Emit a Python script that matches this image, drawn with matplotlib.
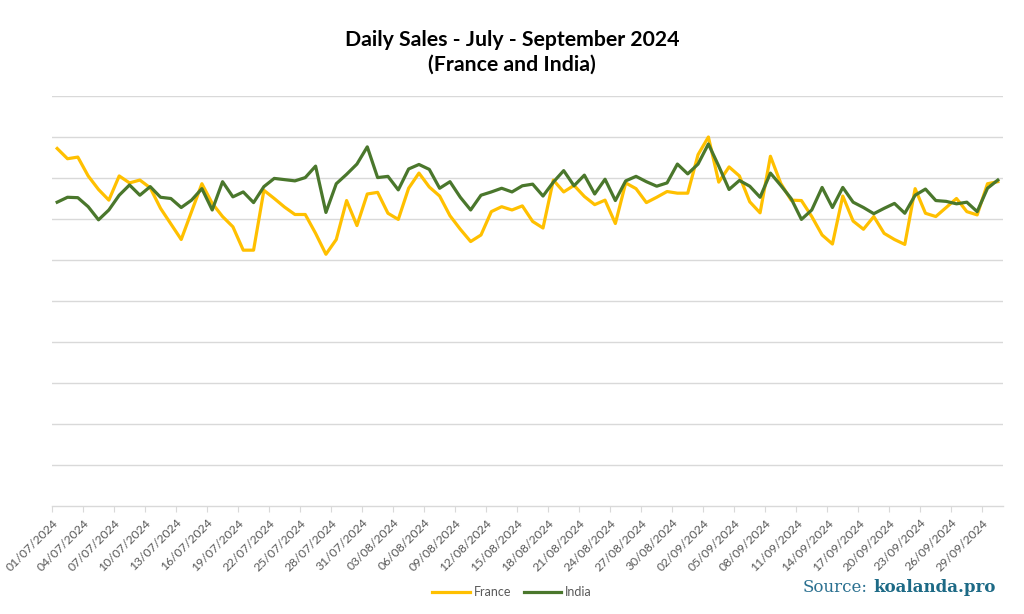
import matplotlib
matplotlib.use("Agg")
import matplotlib.pyplot as plt
import numpy as np
import pandas as pd

# ---- data (arbitrary units, grid step = 1) ----
start_date = "2024-07-01"
n_days = 92
france = [8.72, 8.47, 8.51, 8.05, 7.72, 7.46, 8.05, 7.88, 7.95, 7.76,
          7.26, 6.88, 6.50, 7.18, 7.86, 7.38, 7.06, 6.81, 6.24, 6.24,
          7.70, 7.50, 7.29, 7.11, 7.11, 6.65, 6.14, 6.50, 7.45, 6.84,
          7.61, 7.65, 7.14, 6.99, 7.75, 8.12, 7.78, 7.56, 7.08, 6.75,
          6.45, 6.61, 7.18, 7.30, 7.22, 7.32, 6.94, 6.78, 7.95, 7.66,
          7.82, 7.55, 7.35, 7.46, 6.89, 7.88, 7.74, 7.40, 7.53, 7.67,
          7.63, 7.63, 8.57, 9.00, 7.90, 8.27, 8.05, 7.42, 7.15, 8.53,
          7.87, 7.46, 7.45, 7.06, 6.61, 6.39, 7.56, 6.95, 6.75, 7.06,
          6.65, 6.50, 6.38, 7.74, 7.14, 7.06, 7.28, 7.50, 7.18, 7.10,
          7.86, 7.91]
india = [7.41, 7.53, 7.52, 7.30, 6.98, 7.22, 7.58, 7.83, 7.58, 7.79,
         7.53, 7.50, 7.28, 7.46, 7.74, 7.22, 7.91, 7.54, 7.66, 7.40,
         7.79, 7.99, 7.96, 7.93, 8.01, 8.29, 7.16, 7.86, 8.09, 8.34,
         8.76, 8.01, 8.04, 7.71, 8.22, 8.33, 8.21, 7.75, 7.91, 7.53,
         7.22, 7.58, 7.66, 7.75, 7.66, 7.81, 7.85, 7.56, 7.90, 8.18,
         7.81, 8.07, 7.61, 7.97, 7.45, 7.93, 8.04, 7.91, 7.80, 7.88,
         8.34, 8.10, 8.34, 8.83, 8.29, 7.72, 7.94, 7.80, 7.53, 8.12,
         7.82, 7.50, 6.99, 7.22, 7.77, 7.28, 7.77, 7.41, 7.28, 7.13,
         7.26, 7.38, 7.14, 7.58, 7.73, 7.45, 7.43, 7.37, 7.41, 7.18,
         7.75, 7.95]
dates = pd.date_range(start_date, periods=n_days, freq="D")
tick_labels = [d.strftime("%d/%m/%Y") for d in dates[::3]]

title = "Daily Sales - July - September 2024\n(France and India)"

# ---- figure ----
fig = plt.figure(figsize=(10.24, 6.14), dpi=100)
ax = fig.add_axes([52/1024, 1 - 506/614, (1003 - 52)/1024, (506 - 96)/614])

x = np.arange(n_days) + 0.5
ax.plot(x, france, color="#FFC000", lw=2.3, label="France", solid_joinstyle="round")
ax.plot(x, india, color="#4A772C", lw=2.3, label="India", solid_joinstyle="round")

ax.set_xlim(0, n_days)
ax.set_ylim(0, 10)
ax.set_yticks(np.arange(1, 11))
ax.yaxis.grid(True, color="#D9D9D9", lw=1)
ax.set_axisbelow(True)
ax.tick_params(axis="y", left=False, labelleft=False)

ax.set_xticks(np.arange(0, n_days, 3))
ax.set_xticklabels(tick_labels, rotation=45, ha="right", rotation_mode="anchor",
                   fontsize=8.8, color="#595959", family="Lato")
ax.tick_params(axis="x", length=4, color="#D9D9D9", pad=4)

for s in ["top", "right", "left"]:
    ax.spines[s].set_visible(False)
ax.spines["bottom"].set_color("#D9D9D9")
ax.spines["bottom"].set_linewidth(1)

fig.text(0.5, 1 - 52/614, title, ha="center", va="center", fontsize=15.3,
         fontweight="bold", family="Lato", color="#000000", linespacing=1.3)

leg = fig.legend(loc="center", bbox_to_anchor=(512/1024, 1 - 592/614), ncol=2,
                 frameon=False, handlelength=3.0, handletextpad=0.3,
                 columnspacing=1.0, prop={"family": "Lato", "size": 9})
for t in leg.get_texts():
    t.set_color("#595959")

fig.text(868/1024, 1 - 588/614, "Source:", ha="right", va="center",
         fontsize=12, family="DejaVu Serif", color="#2A7090")
fig.text(873/1024, 1 - 588/614, "koalanda.pro", ha="left", va="center",
         fontsize=12, family="DejaVu Serif", fontweight="bold", color="#1D6A86")

fig.savefig("out.png", dpi=100)
